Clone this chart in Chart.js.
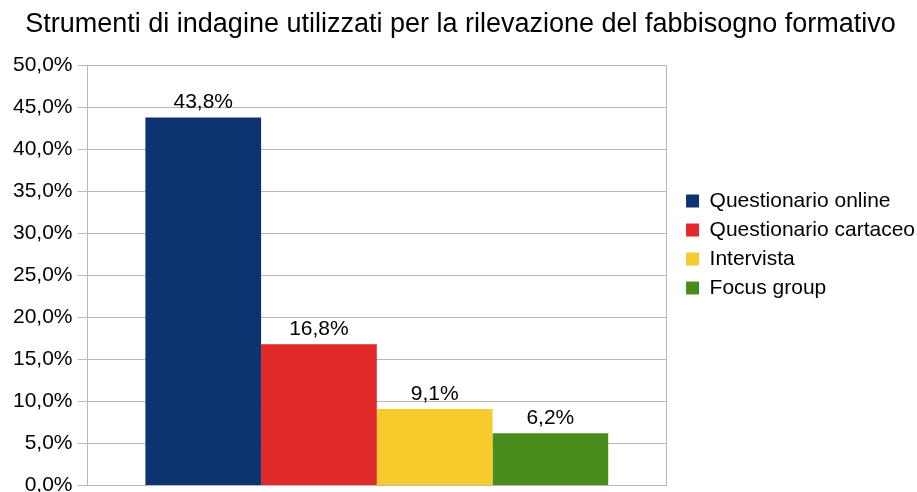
<!DOCTYPE html>
<html>
<head>
<meta charset="utf-8">
<script src="https://cdn.jsdelivr.net/npm/chart.js@4/dist/chart.umd.min.js"></script>
<style>
  html, body { margin: 0; padding: 0; background: #fff; overflow: hidden; }
  #wrap { width: 917px; height: 492px; overflow: hidden; }
</style>
</head>
<body>
<div id="wrap"><canvas id="chart" width="917" height="503"></canvas></div>
<script>
// data
const titleText = "Strumenti di indagine utilizzati per la rilevazione del fabbisogno formativo";
const categories = [""];
const seriesNames = ["Questionario online", "Questionario cartaceo", "Intervista", "Focus group"];
const seriesValues = [43.8, 16.8, 9.1, 6.2];
const seriesColors = ["#0d3471", "#e2292a", "#f8cb2c", "#4a8c1c"];
const yTicks = [0, 5, 10, 15, 20, 25, 30, 35, 40, 45, 50];

const FONT = "'Liberation Sans', Arial, sans-serif";
const GRID = "#b8b8b8";

const fmt = (v) => v.toFixed(1).replace(".", ",") + "%";

// labels on top of each bar
const valueLabels = {
    id: "valueLabels",
    afterDatasetsDraw(chart) {
        const ctx = chart.ctx;
        ctx.save();
        ctx.font = "21px " + FONT;
        ctx.fillStyle = "#000";
        ctx.textAlign = "center";
        ctx.textBaseline = "alphabetic";
        chart.data.datasets.forEach((ds, i) => {
            chart.getDatasetMeta(i).data.forEach((bar, j) => {
                ctx.fillText(fmt(ds.data[j]), bar.x, bar.y - 9);
            });
        });
        ctx.restore();
    }
};

// small position fixes: legend a bit higher, title re-centred on the page
const nudge = {
    id: "nudge",
    afterLayout(chart) {
        chart.legend.top -= 7;
        chart.legend.bottom -= 7;
        chart.titleBlock.left -= 6;
        chart.titleBlock.right -= 6;
    }
};

const chart = new Chart(document.getElementById("chart"), {
    type: "bar",
    data: {
        labels: categories,
        datasets: seriesNames.map((name, i) => ({
            label: name,
            data: [seriesValues[i]],
            backgroundColor: seriesColors[i],
            borderWidth: 0,
            categoryPercentage: 0.8,
            barPercentage: 1
        }))
    },
    options: {
        responsive: false,
        animation: false,
        devicePixelRatio: 1,
        layout: { padding: { left: 8, right: -8, top: 0, bottom: 0 } },
        plugins: {
            title: {
                display: true,
                text: titleText,
                color: "#000",
                font: { family: FONT, size: 27, weight: "normal" },
                padding: { top: 8, bottom: 25 }
            },
            legend: {
                position: "right",
                maxWidth: 300,
                labels: {
                    color: "#000",
                    font: { family: FONT, size: 21 },
                    boxWidth: 13,
                    boxHeight: 13,
                    padding: 8
                }
            },
            tooltip: { enabled: false }
        },
        scales: {
            x: { display: false },
            y: {
                min: 0,
                max: 50,
                afterBuildTicks: (axis) => { axis.ticks = yTicks.map(v => ({ value: v })); },
                ticks: {
                    color: "#000",
                    font: { family: FONT, size: 21 },
                    padding: 5,
                    callback: (v) => fmt(v)
                },
                grid: { color: GRID, tickLength: 10 },
                border: { color: GRID }
            },
            // empty right axis: plot frame on the right and gap before the legend
            y2: {
                position: "right",
                min: 0,
                max: 50,
                ticks: { display: false },
                grid: { display: false },
                border: { display: true, color: GRID },
                afterFit: (axis) => { axis.width = 12; }
            }
        }
    },
    plugins: [valueLabels, nudge]
});
</script>
</body>
</html>
